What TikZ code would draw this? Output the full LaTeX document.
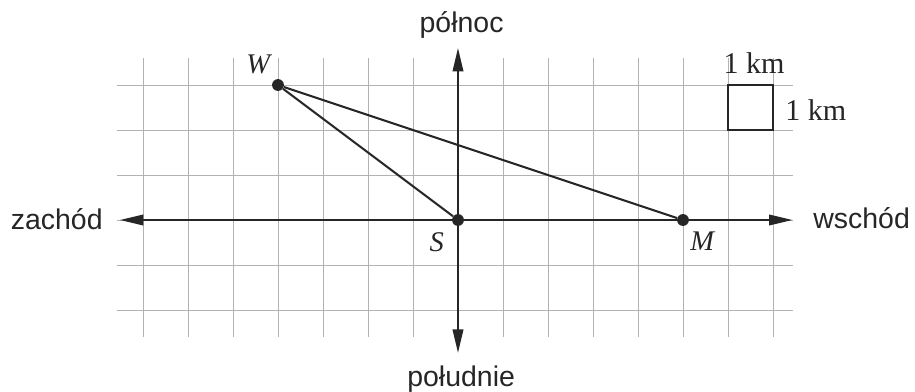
\documentclass[tikz,border=0pt]{standalone}
\usepackage{fontspec}
\setmainfont{Liberation Serif}
\setsansfont{Liberation Sans}
\usetikzlibrary{arrows.meta}
\begin{document}
\begin{tikzpicture}[
  gridline/.style={draw=gray!60, line width=0.6pt},
  axis/.style={line width=1.7pt, {Triangle[length=15pt,width=6.5pt]}-{Triangle[length=15pt,width=6.5pt]}},
  seg/.style={line width=1.3pt},
  pt/.style={circle, fill=black!85, inner sep=0pt, minimum size=7.5pt},
  dirlab/.style={font=\sffamily\fontsize{18}{20}\selectfont, inner sep=0pt, text=black!85},
  ptlab/.style={font=\itshape\fontsize{18}{20}\selectfont, inner sep=0pt, text=black!85},
  kmlab/.style={font=\fontsize{19}{21}\selectfont, inner sep=0pt, text=black!85}
]
\useasboundingbox (-10.178,-3.822) rectangle (10.156,4.889);
% grid
\foreach \x in {-7,...,7} \draw[gridline] (\x,-2.6) -- (\x,3.6);
\foreach \y in {-2,...,3} \draw[gridline] (-7.58,\y) -- (7.44,\y);
% axis ends
\coordinate (west) at (-7.52,0);
\coordinate (east) at (7.44,0);
\coordinate (north) at (0,3.83);
\coordinate (south) at (0,-2.96);
\draw[axis, black!85] (west) -- (east);
\draw[axis, black!85] (south) -- (north);
% points
\node[pt] (S) at (0,0) {};
\node[pt] (W) at (-4,3) {};
\node[pt] (M) at (5,0) {};
\draw[seg, black!85] (W) -- (S);
\draw[seg, black!85] (W) -- (M);
% scale square
\draw[line width=1.4pt, black!85] (6,2) rectangle (7,3);
% labels
\node[ptlab, anchor=base] (Wl) at (-4.44,3.26) {W};
\node[ptlab, anchor=base] (Sl) at (-0.47,-0.69) {S};
\node[ptlab, anchor=base] (Ml) at (5.43,-0.68) {M};
\node[kmlab, anchor=base] (km1) at (6.58,3.26) {1 km};
\node[kmlab, anchor=base west] (km2) at (7.27,2.22) {1 km};
\node[dirlab, anchor=base east] (zl) at (-7.89,-0.22) {zachód};
\node[dirlab, anchor=base west] (wl) at (7.89,-0.19) {wschód};
\node[dirlab, anchor=base] (nl) at (0.08,4.16) {północ};
\node[dirlab, anchor=base] (sl) at (0.07,-3.71) {południe};
\end{tikzpicture}
\end{document}
